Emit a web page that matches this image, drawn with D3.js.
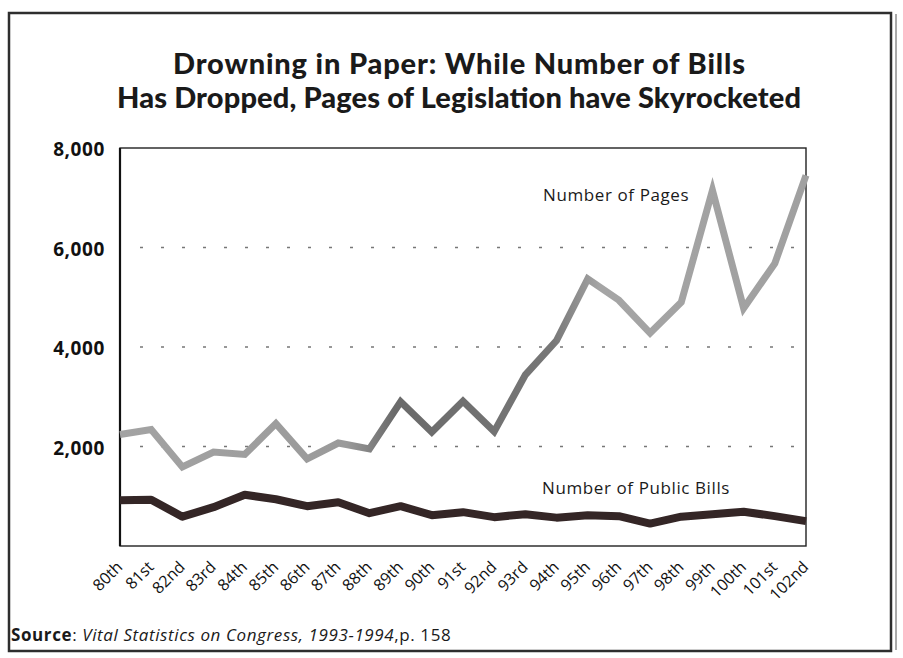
<!DOCTYPE html>
<html>
<head>
<meta charset="utf-8">
<script src="https://cdn.jsdelivr.net/npm/d3@7"></script>
<style>
  body { margin: 0; background: #fff; }
  svg { display: block; font-family: "Open Sans", Lato, sans-serif; }
</style>
</head>
<body>
<svg id="chart"></svg>
<script>
// congresses on the x axis
var congresses = ["80th", "81st", "82nd", "83rd", "84th", "85th", "86th", "87th", "88th", "89th",
  "90th", "91st", "92nd", "93rd", "94th", "95th", "96th", "97th", "98th", "99th",
  "100th", "101st", "102nd"];

// pages of legislation
var pages = [2240, 2340, 1590, 1890, 1840, 2460, 1750, 2070, 1950, 2900,
  2290, 2910, 2300, 3440, 4130, 5370, 4940, 4280, 4900, 7150,
  4780, 5680, 7450];

// number of public bills
var bills = [920, 930, 590, 780, 1030, 940, 800, 880, 660, 800,
  620, 680, 580, 640, 570, 620, 600, 450, 590, 640,
  690, 600, 500];

var yTicks = [2000, 4000, 6000, 8000];
var gridTicks = [2000, 4000, 6000];

var titleLines = ["Drowning in Paper: While Number of Bills",
  "Has Dropped, Pages of Legislation have Skyrocketed"];
var titleWidths = [572, 684];

const W = 903, H = 658;
const margin = { top: 148, right: 97, bottom: 112, left: 120 },
  width = W - margin.left - margin.right,
  height = H - margin.top - margin.bottom;

const svg = d3.select("#chart")
  .attr("width", W)
  .attr("height", H);

// outer frame
svg.append("rect")
  .attr("x", 9).attr("y", 13)
  .attr("width", 882).attr("height", 638)
  .attr("fill", "none")
  .attr("stroke", "#2e2e2e")
  .attr("stroke-width", 2.5);
svg.append("line")
  .attr("x1", 896).attr("x2", 896)
  .attr("y1", 14).attr("y2", 650)
  .attr("stroke", "#555").attr("stroke-width", 1);

// title
svg.append("g").selectAll("text")
  .data(titleLines)
  .enter().append("text")
  .attr("x", 459)
  .attr("y", function (d, i) { return 74 + i * 34; })
  .attr("text-anchor", "middle")
  .attr("font-family", "Lato, sans-serif")
  .attr("font-size", 29)
  .attr("font-weight", 900)
  .attr("fill", "#1a1a1a")
  .attr("textLength", function (d, i) { return titleWidths[i]; })
  .attr("lengthAdjust", "spacing")
  .text(function (d) { return d; });

const g = svg.append("g")
  .attr("transform", "translate(" + margin.left + "," + margin.top + ")");

var x = d3.scalePoint().domain(congresses).range([0, width]);
var y = d3.scaleLinear().domain([0, 8000]).range([height, 0]);

// dotted gridlines
g.append("g").selectAll("line")
  .data(gridTicks)
  .enter().append("line")
  .attr("x1", 20).attr("x2", width - 4)
  .attr("y1", function (d) { return y(d); })
  .attr("y2", function (d) { return y(d); })
  .attr("stroke", "#777")
  .attr("stroke-width", 1.6)
  .attr("stroke-dasharray", "3,18");

// plot box
g.append("rect")
  .attr("width", width).attr("height", height)
  .attr("fill", "none")
  .attr("stroke", "#222")
  .attr("stroke-width", 1.4);
g.append("line")
  .attr("x1", 0).attr("x2", 0).attr("y1", 0).attr("y2", height)
  .attr("stroke", "#111").attr("stroke-width", 2.2);

// y axis labels
var yAxis = d3.axisLeft(y).tickValues(yTicks).tickSize(0).tickPadding(15)
  .tickFormat(d3.format(","));
g.append("g").call(yAxis)
  .call(function (a) { a.select(".domain").remove(); })
  .selectAll("text")
  .attr("font-family", "'Open Sans', sans-serif")
  .attr("font-size", 19)
  .attr("font-weight", 700)
  .attr("letter-spacing", 0.6)
  .attr("dy", "0.4em")
  .attr("fill", "#111");

// x axis labels, rotated
var xAxis = d3.axisBottom(x).tickSize(0).tickPadding(0);
g.append("g")
  .attr("transform", "translate(0," + height + ")")
  .call(xAxis)
  .call(function (a) { a.select(".domain").remove(); })
  .selectAll("text")
  .attr("font-family", "'Open Sans', sans-serif")
  .attr("font-size", 16)
  .attr("fill", "#111")
  .attr("text-anchor", "end")
  .attr("dy", "0")
  .attr("transform", "translate(3,22) rotate(-45)");

// gradient for the pages line (scan is lighter at ends, darker in the middle)
var grad = svg.append("defs").append("linearGradient")
  .attr("id", "pagesGrad")
  .attr("gradientUnits", "userSpaceOnUse")
  .attr("x1", 0).attr("x2", width).attr("y1", 0).attr("y2", 0);
grad.append("stop").attr("offset", "0%").attr("stop-color", "#a3a3a3");
grad.append("stop").attr("offset", "33%").attr("stop-color", "#9a9a9a");
grad.append("stop").attr("offset", "40%").attr("stop-color", "#6a6a6a");
grad.append("stop").attr("offset", "63%").attr("stop-color", "#777");
grad.append("stop").attr("offset", "70%").attr("stop-color", "#a5a5a5");
grad.append("stop").attr("offset", "100%").attr("stop-color", "#a0a0a0");

var line = d3.line()
  .x(function (d, i) { return x(congresses[i]); })
  .y(function (d) { return y(d); });

g.append("path")
  .datum(pages)
  .attr("fill", "none")
  .attr("stroke", "url(#pagesGrad)")
  .attr("stroke-width", 7)
  .attr("stroke-linejoin", "miter")
  .attr("d", line);

g.append("path")
  .datum(bills)
  .attr("fill", "none")
  .attr("stroke", "#342626")
  .attr("stroke-width", 8)
  .attr("stroke-linejoin", "round")
  .attr("d", line);

// series labels
g.append("text")
  .attr("x", 543 - margin.left).attr("y", 201 - margin.top)
  .attr("font-size", 17)
  .attr("letter-spacing", 0.6)
  .attr("fill", "#1a1a1a")
  .text("Number of Pages");
g.append("text")
  .attr("x", 542 - margin.left).attr("y", 494 - margin.top)
  .attr("font-size", 17)
  .attr("letter-spacing", 0.6)
  .attr("fill", "#1a1a1a")
  .text("Number of Public Bills");

// source line
var src = svg.append("text")
  .attr("x", 11).attr("y", 641)
  .attr("font-size", 17)
  .attr("letter-spacing", 0.6)
  .attr("fill", "#1a1a1a");
src.append("tspan").attr("font-weight", 700).text("Source");
src.append("tspan").text(": ");
src.append("tspan").attr("font-style", "italic").text("Vital Statistics on Congress, 1993-1994");
src.append("tspan").text(",p. 158");
</script>
</body>
</html>
